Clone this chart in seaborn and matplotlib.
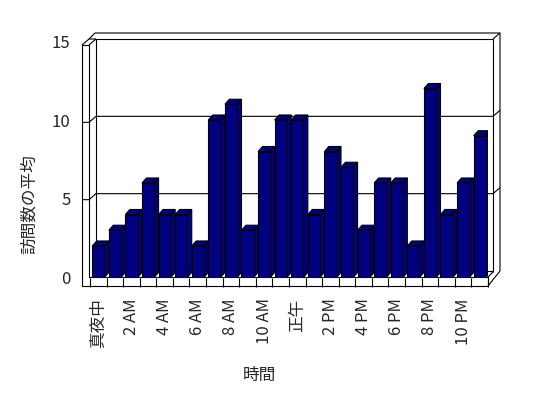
import numpy as np
import matplotlib
matplotlib.use("Agg")
from matplotlib import pyplot as plt
from matplotlib.patches import Polygon
import seaborn as sns

sns.set_theme(style="white")
plt.rcParams["font.family"] = ["Noto Sans CJK JP", "DejaVu Sans"]

# data
hours = list(range(24))
avg_visits = [2, 3, 4, 6, 4, 4, 2, 10, 11, 3, 8, 10, 10, 4, 8, 7, 3, 6, 6, 2, 12, 4, 6, 9]
tick_hours = list(range(0, 24, 2))
tick_labels = ["真夜中", "2 AM", "4 AM", "6 AM", "8 AM", "10 AM",
               "正午", "2 PM", "4 PM", "6 PM", "8 PM", "10 PM"]
y_ticks = [0, 5, 10, 15]

W, H = 548, 398
navy = "#000080"
fs = 12

fig = plt.figure(figsize=(W / 100, H / 100), dpi=100)

# fake 3D frame drawn in pixel coords (top-left origin)
frame = fig.add_axes([0, 0, 1, 1], zorder=0)
frame.set_xlim(0, W)
frame.set_ylim(H, 0)
frame.axis("off")

def seg(pts):
    xs, ys = zip(*pts)
    frame.plot(xs, ys, color="black", lw=0.8, solid_capstyle="butt")

wx0, wx1, bx0, bx1, sx = 82, 89, 96, 493, 500
top_f, top_b, top_s = 45, 39, 33
floor_top, floor_bot, floor_back, floor_r = 277, 286, 271, 488

def back_y(v):
    return floor_back - v * (floor_back - top_b) / 15

# left wall + floor front face
seg([(wx0, top_f), (wx0, floor_bot), (floor_r, floor_bot), (floor_r, floor_top), (wx1, floor_top), (wx1, top_f), (wx0, top_f)])
seg([(wx0, top_f), (wx1, top_b), (bx0, top_b)])
seg([(wx1, top_f), (bx0, top_b)])
seg([(wx1, top_b), (bx0 - 1, top_s), (sx, top_s), (sx, floor_back)])
# back wall
seg([(bx0, floor_back), (bx0, top_b), (bx1, top_b), (bx1, floor_back + 1)])
seg([(bx1, top_b), (sx, top_s)])
seg([(bx0, floor_back), (bx1, floor_back)])
# floor right end
seg([(floor_r, floor_top), (bx1, floor_back + 1)])
seg([(floor_r, floor_bot), (sx, floor_back)])
# gridlines wrapping around the walls
for v in y_ticks[1:3]:
    yb = back_y(v)
    seg([(wx0, yb + 6), (wx1, yb + 6), (bx0, yb), (bx1, yb), (sx, yb - 6)])

# bars
ax = fig.add_axes([90 / W, 1 - 277.5 / H, 398 / W, 236.2 / H], zorder=1)
ax.set_facecolor("none")
sns.barplot(x=hours, y=avg_visits, color=navy, saturation=1, width=0.73,
            edgecolor="black", linewidth=0.8, ax=ax, zorder=3)

dx, dy = 0.27, 0.32
for bar in list(ax.patches):
    x0 = bar.get_x()
    x1 = x0 + bar.get_width()
    h = bar.get_height()
    top = Polygon([(x0, h), (x1, h), (x1 + dx, h + dy), (x0 + dx, h + dy)],
                  closed=True, facecolor=navy, edgecolor="black", lw=0.8, zorder=2)
    side = Polygon([(x1, 0), (x1, h), (x1 + dx, h + dy), (x1 + dx, dy)],
                   closed=True, facecolor=navy, edgecolor="black", lw=0.8, zorder=2)
    ax.add_patch(top)
    ax.add_patch(side)

ax.set_xlim(-0.5, 23.5)
ax.set_ylim(0, 15)
for s in ax.spines.values():
    s.set_visible(False)

ax.set_xticks(tick_hours)
ax.set_xticklabels(tick_labels, rotation=90, fontsize=fs)
ax.set_xticks(np.arange(-0.5, 24, 1), minor=True)
ax.set_yticks(y_ticks)
ax.set_yticklabels([str(v) for v in y_ticks], fontsize=fs)
ax.tick_params(axis="x", which="major", length=0, pad=15)
ax.tick_params(axis="x", which="minor", bottom=True, direction="out",
               length=6.5, width=0.8, color="black")
ax.tick_params(axis="y", length=0, pad=14)

ax.set_xlabel("時間", fontsize=fs, va="center")
ax.xaxis.set_label_coords(0.426, -0.413)
ax.set_ylabel("訪問数の平均", fontsize=fs, va="center")
ax.yaxis.set_label_coords(-0.151, 0.31)

fig.savefig("out.png", dpi=100, facecolor="white")
